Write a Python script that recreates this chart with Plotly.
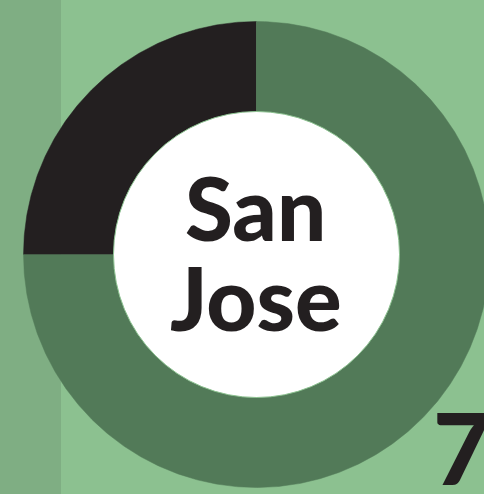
import math
import plotly.graph_objects as go

# Share of the ring per segment (counter-clockwise from 12 o'clock)
segment_labels = ["San Jose", "Rest"]
segment_values = [25, 75]
segment_colors = ["#231f20", "#527a58"]

title_lines = ["San", "Jose"]
rank_label = "7"

W, H = 484, 494
cx, cy = 256.5, 254.5        # ring centre in pixel units
r_out, r_in = 233, 143

fig = go.Figure()

# ring segments built from the shares
total = sum(segment_values)
start = 90.0
for label, val, col in zip(segment_labels, segment_values, segment_colors):
    sweep = 360.0 * val / total
    n = max(int(sweep), 8) * 2
    angs = [math.radians(start + sweep * i / n) for i in range(n + 1)]
    xs = [cx + r_out * math.cos(a) for a in angs] + [cx + r_in * math.cos(a) for a in reversed(angs)]
    ys = [cy - r_out * math.sin(a) for a in angs] + [cy - r_in * math.sin(a) for a in reversed(angs)]
    fig.add_trace(go.Scatter(
        x=xs, y=ys, mode="lines", fill="toself",
        fillcolor=col, line=dict(color=col, width=0.5),
        name=label, hoverinfo="name", showlegend=False
    ))
    start += sweep

# left darker strip
fig.add_shape(type="rect", xref="x", yref="y", x0=0, x1=61, y0=0, y1=H,
              fillcolor="#7fae83", line=dict(width=0), layer="below")

# white hole
fig.add_shape(type="circle", xref="x", yref="y",
              x0=cx - r_in, x1=cx + r_in, y0=cy - r_in, y1=cy + r_in,
              fillcolor="white", line=dict(color="#8cc190", width=1), layer="above")

# tight leading: fixed box height keeps the two lines from overlapping
font_main = dict(family="Lato", size=87, color="#231f20", weight=900)
fig.add_annotation(x=255, y=207, text=title_lines[0], showarrow=False,
                   xanchor="center", yanchor="middle", height=84,
                   valign="middle", font=font_main)
fig.add_annotation(x=256, y=297, text=title_lines[1], showarrow=False,
                   xanchor="center", yanchor="middle", height=84,
                   valign="middle", font=font_main)
fig.add_annotation(x=431, y=446, text=rank_label, showarrow=False,
                   xanchor="left", yanchor="middle",
                   font=dict(family="Lato", size=100, color="#231f20", weight=900))

fig.update_layout(
    width=W, height=H,
    margin=dict(l=0, r=0, t=0, b=0),
    paper_bgcolor="#8cc190",
    plot_bgcolor="#8cc190",
    showlegend=False,
    xaxis=dict(range=[0, W], visible=False, fixedrange=True),
    yaxis=dict(range=[H, 0], visible=False, fixedrange=True),
)

# drop the default page margin so the figure fills the window
fig.write_html("out.html", config={"displayModeBar": False},
               post_script="document.body.style.margin='0';")
